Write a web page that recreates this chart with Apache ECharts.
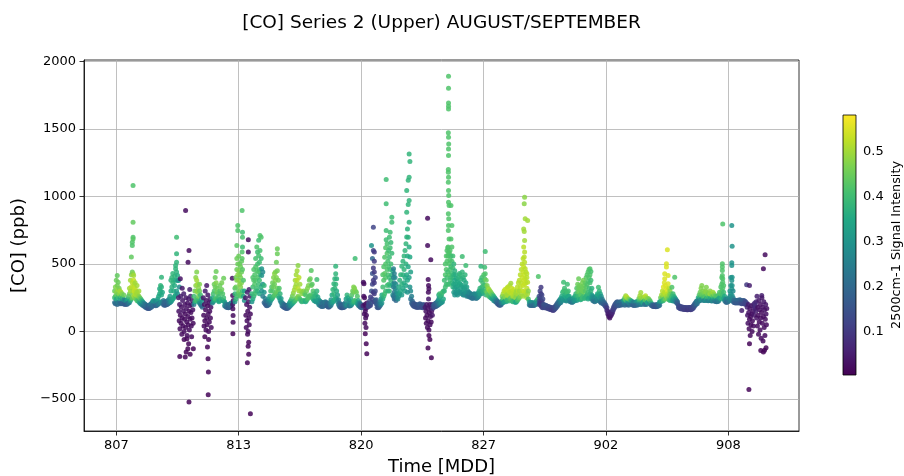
<!DOCTYPE html>
<html><head><meta charset="utf-8">
<script src="https://cdn.jsdelivr.net/npm/echarts@6/dist/echarts.min.js"></script>
<style>html,body{margin:0;padding:0;background:#fff}#c{width:904px;height:476px}</style>
</head><body><div id="c"></div>
<script>
// Tick positions are days of August (Sep 1 = day 32)
const xTickValues = [7, 13.5, 20, 26.5, 33, 39.5];
const xTickLabels = ['807', '813', '820', '827', '902', '908'];
const yTickValues = [-500, 0, 500, 1000, 1500, 2000];
const cbTickValues = [0.1, 0.2, 0.3, 0.4, 0.5];
const signalRange = [0.0025, 0.582];
const viridis = ['#440154','#482475','#414487','#355f8d','#2a788e','#21918c','#22a884','#44bf70','#7ad151','#bddf26','#fde725'];

// Each row: [day, co1, signal1, co2, signal2, ...]
const week1 = [
[6.91,215,.22,250,.38,300,.45],[6.95,205,.2,260,.42,330,.47],[7.00,210,.22,240,.35,290,.48,380,.45],
[7.05,200,.2,270,.45,415,.44,340,.46],[7.10,215,.25,255,.4,365,.45,310,.5],[7.15,210,.22,280,.48,320,.46],
[7.20,205,.2,245,.35,300,.5],[7.25,210,.2,260,.42,290,.5],[7.30,205,.18,240,.3,280,.47],[7.35,210,.2,250,.4],
[7.40,205,.18,235,.28,270,.45],[7.45,200,.17,230,.25],[7.50,205,.18,225,.25],[7.55,200,.17,230,.3],
[7.60,205,.2,240,.35],[7.65,210,.22,260,.42],[7.70,215,.25,280,.45,320,.5],[7.75,230,.35,300,.5,380,.5],
[7.80,240,.4,330,.52,420,.48,551,.44],[7.85,250,.45,360,.52,440,.45,637,.42,662,.42],
[7.89,1081,.42,810,.44,699,.42,686,.43,427,.48,300,.5],[7.92,270,.48,380,.53,415,.5,330,.52],
[7.95,260,.5,350,.52,300,.53],[8.00,250,.48,320,.53,280,.52,360,.5],[8.05,240,.45,300,.52,270,.5],
[8.10,230,.42,290,.5,340,.5],[8.15,225,.4,270,.5],[8.20,220,.38,260,.48,300,.5],[8.25,210,.33,250,.45],
[8.30,205,.3,240,.42],[8.35,200,.28,230,.38],[8.40,195,.25,220,.33],[8.45,190,.22,210,.28],[8.50,185,.2,205,.25],
[8.55,180,.2,200,.23],[8.60,175,.18,195,.22],[8.65,172,.17,190,.2],[8.70,170,.15,185,.18],[8.75,170,.16,190,.2],
[8.80,175,.17,200,.22],[8.85,180,.18,205,.22],[8.90,185,.2,215,.25],[8.95,195,.22,225,.3],[9.00,200,.22,230,.32],
[9.05,195,.2,220,.28],[9.10,190,.18,215,.25],[9.15,195,.2,225,.3],[9.20,200,.22,240,.32],[9.25,205,.25,260,.35],
[9.30,210,.25,280,.35,316,.35],[9.35,215,.28,300,.37,340,.38],[9.40,220,.3,402,.38,330,.37,270,.35],
[9.45,210,.25,290,.35],[9.50,200,.2,230,.25],[9.55,195,.18,220,.2],[9.60,195,.17,215,.2],[9.65,200,.18,220,.2],
[9.70,200,.17,225,.2],[9.75,205,.2,230,.22],[9.80,210,.22,240,.28],[9.85,215,.25,260,.32],
[9.90,220,.3,300,.35,380,.38],[9.95,230,.32,330,.37,400,.38],[10.00,240,.33,360,.38,430,.38],
[10.05,250,.35,380,.38,300,.36],[10.10,260,.35,410,.38,340,.36],[10.15,270,.35,464,.38,489,.38,380,.36],
[10.20,699,.4,575,.38,513,.38,440,.37,300,.33],[10.25,415,.36,378,.35,280,.3],
[10.30,250,.05,378,.3],[10.32,150,.03],[10.34,80,.02],[10.35,330,.28],[10.36,200,.04],[10.37,-185,.01],
[10.38,20,.02],[10.40,120,.02,390,.03],[10.42,260,.05],[10.44,60,.02],[10.46,180,.03],[10.48,-20,.02],
[10.50,100,.02,320,.04],[10.52,230,.04],[10.54,40,.02],[10.56,150,.03],[10.58,280,.05],[10.60,0,.02,-60,.01],
[10.62,90,.02],[10.64,200,.03],[10.66,130,.02,-190,.01],[10.68,30,.02,896,.02],[10.70,250,.04],[10.71,-153,.01],
[10.72,170,.03],[10.74,70,.02],[10.75,-54,.01],[10.76,-30,.02],[10.78,210,.03],[10.80,110,.02,-128,.01],
[10.81,513,.02],[10.82,50,.02],[10.84,240,.04,-91,.01],[10.86,150,.02,600,.02,-523,.01],[10.88,10,.02],
[10.90,190,.03,310,.05],[10.92,90,.02,-170,.01],[10.94,260,.05],[10.96,140,.02],[10.98,40,.02],
[11.00,200,.03,-40,.02],[11.02,100,.02],[11.04,230,.04],[11.06,160,.03],[11.08,60,.02],[11.09,-128,.01],
[11.12,200,.25,260,.4],[11.17,220,.35,300,.45],[11.22,230,.4,340,.48,400,.48],[11.27,240,.42,380,.5,440,.47,300,.48],
[11.32,230,.4,350,.5,290,.48],[11.37,220,.38,320,.48,260,.45],[11.42,210,.3,300,.45,350,.47],[11.47,200,.25,270,.4],
[11.52,190,.22,240,.35],[11.57,180,.2,220,.3],
[11.62,250,.04],[11.64,120,.02],[11.66,40,.02],[11.68,200,.03],[11.70,80,.02,-40,.01],[11.72,300,.05],
[11.74,160,.02],[11.76,10,.02],[11.78,230,.03],[11.80,100,.02,340,.04],[11.82,50,.02],[11.84,190,.02,-116,.01],
[11.86,270,.04],[11.87,-202,.01],[11.88,130,.02,-469,.01],[11.89,-301,.01],[11.90,0,.02,-60,.01],[11.92,210,.03],
[11.94,70,.02],[11.96,150,.02],[11.98,240,.04],[12.00,100,.02],[12.02,180,.03],[12.04,30,.02],[12.06,220,.04],
[12.10,210,.25,250,.35],[12.15,220,.3,280,.4],[12.20,230,.35,300,.42,350,.45],[12.25,240,.4,330,.45,400,.45],
[12.30,250,.42,360,.47,444,.45],[12.35,240,.4,320,.45,290,.45],[12.40,230,.37,280,.43],[12.45,220,.35,260,.4],
[12.50,230,.35,300,.42,340,.45],[12.55,240,.38,290,.42],[12.60,235,.38,310,.45,360,.46],[12.65,230,.35,280,.42],
[12.70,225,.33,395,.45,250,.4],[12.75,190,.28,220,.35],[12.80,185,.22,205,.28],[12.85,180,.2,200,.25],
[12.90,178,.2,195,.22],[12.95,175,.18,195,.2],[13.00,178,.18,198,.22],[13.05,185,.2,205,.22],[13.10,190,.2,210,.25],
[13.16,395,.03],[13.18,267,.02,200,.03],[13.19,168,.02,-17,.01],[13.20,119,.02,69,.02],[13.21,230,.03]
];

const week2 = [
[13.30,220,.3,280,.38,320,.42],[13.35,240,.38,330,.45,400,.45],[13.40,260,.4,380,.47,460,.45,637,.43,540,.45],
[13.45,280,.42,420,.48,748,.42,785,.42,500,.45],[13.50,300,.45,380,.48,450,.47,560,.45],
[13.55,270,.43,350,.48,420,.47,500,.45],[13.60,260,.42,330,.47,400,.46,480,.45],
[13.65,280,.43,360,.47,440,.45,520,.44],[13.68,896,.42,588,.42,540,.43],
[13.70,736,.4,699,.41,625,.4,300,.4,460,.43],[13.75,260,.35,380,.42],[13.80,230,.3,300,.35],
[13.86,250,.04],[13.88,120,.02],[13.90,30,.02],[13.92,200,.03],[13.94,80,.02],[13.96,290,.05,-232,.01],
[13.97,-20,.02],[13.98,150,.02],[14.00,0,.02,-110,.01],[14.01,679,.02,588,.02],[14.02,220,.03],
[14.03,-80,.01,-170,.01],[14.04,100,.02],[14.05,310,.05],[14.06,50,.02],[14.08,180,.03],[14.10,260,.04],
[14.12,130,.02,-610,.01],
[14.20,220,.3,280,.38],[14.25,240,.35,330,.4,400,.42],[14.30,260,.38,380,.42,460,.42],[14.35,280,.4,420,.42,350,.42],
[14.40,300,.4,480,.42,540,.41,380,.42],[14.46,625,.42,450,.42,320,.4],[14.50,588,.4,500,.41,400,.42,300,.38],
[14.56,675,.4,563,.41,440,.42,350,.4],[14.60,513,.4,460,.41,380,.4,280,.36],[14.63,711,.42,600,.41,420,.4],
[14.69,699,.42,540,.4,330,.37],[14.72,464,.3,415,.3,300,.3],[14.78,440,.28,350,.3,260,.25],
[14.85,215,.2,290,.3,340,.38],[14.90,205,.18,245,.25],[14.95,195,.17,225,.22],[15.00,190,.17,215,.2],
[15.05,195,.18,225,.25],[15.10,200,.2,240,.3],[15.15,210,.25,260,.35],
[15.20,230,.3,300,.4],[15.25,240,.35,330,.42],[15.30,250,.38,360,.45,300,.42],[15.35,260,.4,400,.47,330,.45],
[15.40,270,.42,430,.48,350,.45],[15.45,280,.43,440,.47,380,.47],[15.50,290,.44,513,.45,400,.47],
[15.55,612,.45,575,.45,450,.46,320,.45],[15.60,300,.44,380,.46,260,.4],[15.65,250,.35,320,.42],
[15.70,230,.3,280,.38],[15.75,215,.25,245,.32],
[15.80,190,.22,215,.28],[15.85,185,.2,205,.25],[15.90,180,.18,200,.22],[15.95,175,.17,195,.2],[16.00,172,.17,190,.2],
[16.05,170,.17,188,.18],[16.10,172,.16,192,.2],[16.15,178,.2,200,.25],[16.20,185,.22,212,.3],[16.25,192,.28,225,.35],
[16.30,200,.3,240,.4],[16.35,208,.33,262,.45],[16.40,215,.35,285,.48],[16.45,222,.38,308,.5],[16.50,230,.4,330,.5,380,.5],
[16.55,240,.42,350,.5,420,.5],[16.60,250,.45,380,.52,450,.5],[16.65,260,.47,489,.48,320,.52],[16.70,250,.45,400,.52,300,.5],
[16.75,240,.42,350,.5],[16.80,230,.4,300,.5],[16.85,220,.38,280,.48],[16.90,225,.38,290,.48],[16.95,230,.4,300,.48],
[17.00,225,.38,280,.45],[17.05,220,.35,270,.42],[17.10,230,.38,300,.45],
[17.15,240,.4,320,.47],[17.20,250,.42,340,.47],[17.25,260,.42,380,.45],[17.30,270,.42,390,.45],
[17.35,260,.42,452,.43,340,.45],[17.40,250,.4,350,.43],[17.45,240,.38,300,.42],[17.50,230,.35,280,.4],
[17.55,225,.32,260,.38],[17.60,220,.3,270,.38],[17.65,230,.33,385,.4,300,.38],[17.70,215,.3,255,.35],
[17.75,200,.28,235,.33],[17.80,195,.25,225,.3],[17.85,190,.22,220,.28],[17.90,185,.2,215,.25],[17.95,185,.2,210,.22],
[18.00,188,.2,210,.22],[18.05,190,.2,215,.22],[18.10,195,.22,220,.25],[18.15,192,.2,215,.22],[18.20,188,.18,208,.2],
[18.25,182,.17,202,.2],[18.30,182,.17,202,.2],[18.35,188,.2,215,.25],[18.40,195,.25,235,.3],
[18.45,210,.3,270,.35],[18.50,220,.33,310,.38],[18.55,230,.35,353,.38,280,.38],[18.60,240,.36,390,.38,320,.38],
[18.65,250,.37,427,.38,484,.38,350,.38],[18.70,240,.35,390,.37,300,.36],[18.75,220,.3,270,.33],[18.80,200,.25,235,.28],
[18.85,185,.2,210,.22],[18.90,180,.17,200,.2],[18.95,175,.16,195,.18],[19.00,175,.15,195,.18],[19.05,178,.16,200,.18],
[19.10,180,.17,200,.2],[19.15,185,.2,210,.25],[19.20,192,.25,240,.32],[19.25,200,.3,270,.38],[19.30,195,.28,250,.35],
[19.35,190,.25,230,.3],[19.40,188,.22,222,.28],[19.45,192,.25,242,.35],[19.50,200,.3,270,.42],[19.55,210,.35,300,.45],
[19.60,220,.38,330,.47,290,.45],[19.65,230,.4,320,.47],[19.68,540,.4],[19.70,225,.4,300,.47],[19.75,215,.38,290,.45],
[19.80,205,.33,260,.42],[19.85,195,.28,230,.35],[19.90,188,.22,212,.28],[19.95,182,.2,205,.22],[20.00,178,.18,198,.2],
[20.05,175,.17,195,.18]
];

const week3 = [
[20.10,190,.06],[20.12,365,.03],[20.14,260,.03],[20.15,353,.02],[20.17,130,.02],[20.18,250,.02],
[20.20,200,.02,60,.02],[20.22,150,.02,-17,.01],[20.24,100,.02],[20.25,170,.03],[20.26,30,.02],[20.27,-91,.01],
[20.28,120,.02],[20.30,210,.03,-165,.01],[20.33,180,.05],
[20.40,185,.15,205,.15],[20.45,190,.12,225,.12],[20.50,195,.12,255,.1],[20.55,637,.3,300,.15,215,.15],
[20.60,540,.2,430,.15,350,.12,240,.12],[20.65,773,.12,600,.12,470,.1,380,.1,290,.1],
[20.70,588,.1,520,.1,440,.1,360,.1,280,.1,220,.12],[20.75,400,.12,300,.12,230,.15],[20.80,205,.15,235,.17],
[20.85,180,.15,205,.17],[20.90,175,.15,195,.17],[20.95,180,.17,205,.2],[21.00,190,.2,220,.25],[21.05,200,.25,240,.3],
[21.10,210,.3,270,.35],
[21.15,240,.35,330,.4,420,.42],[21.20,260,.38,380,.42,480,.42],[21.25,280,.4,430,.43,550,.42],
[21.30,300,.4,500,.42,620,.42,400,.42],[21.33,1126,.4,946,.4,748,.4,680,.4],[21.38,340,.4,460,.42,580,.42,650,.41],
[21.42,300,.38,420,.41,520,.41],[21.46,350,.4,480,.41,600,.4],[21.50,699,.4,550,.4,400,.4,300,.38],
[21.54,736,.4,620,.4,460,.4,340,.38],[21.58,660,.39,500,.4,380,.38],[21.63,810,.4,847,.4,580,.39,420,.37],
[21.68,450,.35,350,.33,270,.3],
[21.72,464,.25,400,.25,330,.25,260,.22],[21.76,430,.25,360,.25,290,.23,240,.2],[21.80,400,.27,320,.25,250,.22],
[21.85,350,.28,280,.25,230,.2],[21.90,300,.3,250,.25],[21.95,280,.3,240,.28],
[22.00,260,.3,330,.35],[22.05,280,.33,380,.37],[22.10,300,.35,420,.38],[22.16,484,.38,350,.37,270,.32],
[22.22,320,.35,420,.37,520,.38],[22.28,360,.36,460,.38,560,.38],[22.33,300,.33,400,.36,600,.38],
[22.38,340,.34,500,.37,650,.38],[22.42,1044,.38,884,.38,700,.37,420,.35],[22.46,760,.37,560,.36,380,.35,290,.3],
[22.50,1120,.38,940,.38,699,.37,480,.35],[22.55,1316,.38,1143,.38,970,.38,810,.37,625,.36,400,.33],
[22.59,1259,.38,551,.35,330,.3],[22.63,440,.33,300,.28,240,.22],[22.68,260,.25,210,.18],
[22.72,200,.17,225,.2],[22.77,190,.15,210,.17],[22.82,185,.15,205,.16],[22.87,185,.15,200,.15],[22.92,180,.15,200,.15],
[22.97,180,.14,195,.15],[23.02,180,.14,195,.15],[23.07,180,.15,200,.17],[23.12,185,.15,205,.17],[23.17,180,.15,200,.17],
[23.22,180,.14,195,.15],[23.27,175,.14,195,.15],[23.32,180,.14,200,.15],
[23.40,180,.05],[23.42,100,.02],[23.44,150,.03],[23.46,60,.02],[23.48,200,.04],[23.50,120,.02],[23.52,30,.02],
[23.53,839,.02,637,.02],[23.54,170,.03],[23.55,-123,.01],[23.56,80,.02,385,.02],[23.57,291,.02],[23.58,240,.04,340,.02],
[23.60,10,.02,316,.02,-30,.01],[23.62,140,.02],[23.64,200,.03],[23.65,-60,.01],[23.66,50,.02],[23.68,110,.02],
[23.70,180,.03,531,.02],[23.72,70,.02],[23.73,-195,.01],[23.74,150,.03],[23.76,200,.05],[23.78,120,.04],
[23.80,170,.08],[23.82,190,.12],
[23.87,180,.15,200,.17],[23.92,185,.15,205,.17],[23.97,185,.16,210,.18],[24.02,190,.17,215,.2],[24.07,195,.2,225,.25],
[24.12,200,.22,240,.3,270,.35],[24.17,205,.25,250,.33,280,.4],[24.22,210,.28,260,.38],[24.27,215,.3,270,.38],
[24.32,220,.3,290,.4],[24.37,240,.35,300,.4],
[24.42,300,.38,380,.4],[24.47,330,.4,420,.42,500,.42],[24.52,350,.4,460,.42,560,.42],[24.56,400,.4,520,.42,600,.42],
[24.60,440,.4,560,.42,620,.42,350,.4],[24.62,625,.42],
[24.63,1472,.42,1200,.42,1180,.42,1106,.42,872,.42,748,.42,563,.42],
[24.64,1891,.42,1802,.42,1694,.42,1670,.42,1649,.42,1440,.42,1353,.42,1304,.42,1143,.42,1044,.42,958,.42,785,.42,588,.42],
[24.65,1390,.42,1007,.42,835,.42],[24.67,933,.42,686,.42],
[24.68,580,.42,500,.42,420,.42,350,.4],[24.72,600,.42,530,.42,460,.41,380,.4],
[24.77,933,.42,686,.42,560,.41,480,.4,400,.4],[24.82,785,.42,625,.42,520,.41,430,.4,360,.38],
[24.87,560,.4,470,.4,400,.38,330,.37],
[24.92,500,.38,420,.37,350,.35,290,.32],[24.97,450,.37,380,.35,320,.33,270,.3],[25.02,420,.36,350,.34,290,.3],
[25.07,390,.35,330,.33,280,.3],[25.12,370,.35,310,.32,270,.3],[25.17,400,.37,340,.34,290,.3],
[25.22,430,.38,360,.35,300,.32],[25.27,420,.38,350,.35,290,.3],[25.32,390,.37,330,.33,280,.3],
[25.37,556,.4,440,.38,340,.34,290,.3],[25.42,400,.37,320,.33,270,.28],[25.47,380,.36,310,.32,270,.28],
[25.52,420,.38,330,.33,280,.28],[25.56,489,.4,360,.35,290,.3],[25.61,330,.33,280,.3,260,.27],
[25.66,300,.3,265,.25],[25.71,290,.28,260,.25],[25.76,285,.27,255,.23],[25.81,280,.27,255,.23],[25.86,275,.25,250,.22],
[25.91,270,.25,245,.22],[25.96,275,.25,250,.22],[26.01,280,.27,255,.23],[26.06,275,.27,250,.23],[26.11,270,.27,245,.22],
[26.16,275,.28,250,.25],[26.21,285,.3,255,.27],[26.26,300,.35,265,.3],
[26.31,320,.38,280,.33],[26.36,484,.38,380,.38,300,.35],[26.41,400,.4,330,.38,280,.33],[26.46,360,.4,300,.37],
[26.51,420,.42,340,.4,290,.37],[26.56,476,.4,390,.42,310,.38],[26.59,593,.4,427,.42,340,.4],[26.64,380,.45,300,.42,270,.38]
];

const week4 = [
[26.69,340,.47,290,.45],[26.74,320,.48,270,.42],[26.79,310,.5,260,.42],[26.84,300,.48,255,.4],[26.89,290,.47,250,.38],
[26.94,280,.45,245,.35],[26.99,270,.42,240,.33],[27.04,260,.38,230,.3],[27.09,250,.35,225,.28],[27.14,240,.3,220,.25],
[27.19,230,.25,215,.2],[27.24,225,.22,205,.18],[27.29,215,.2,200,.17],[27.34,210,.18,195,.16],[27.39,210,.2,195,.17],
[27.44,215,.25,200,.2],
[27.49,230,.35,210,.25,260,.45],[27.54,240,.42,215,.3,280,.5],[27.59,250,.45,220,.33,300,.52],[27.64,260,.48,225,.35,310,.53],
[27.69,250,.47,220,.33,290,.52],[27.74,270,.5,230,.38,320,.53],[27.79,280,.5,235,.4,330,.52],[27.84,260,.5,225,.38,300,.53],
[27.89,290,.52,240,.42,340,.52],[27.95,358,.5,300,.52,250,.45],[28.00,280,.52,230,.42,320,.53],[28.05,260,.5,220,.38,300,.52],
[28.10,270,.52,225,.4,310,.53],[28.15,260,.5,220,.38,290,.52],[28.20,250,.48,215,.35,280,.5],[28.25,260,.48,220,.35,300,.5],
[28.30,280,.5,230,.4,330,.52],[28.35,300,.52,240,.42,360,.52],
[28.40,380,.52,300,.5,250,.45],[28.45,420,.52,330,.52,260,.47],[28.50,460,.52,360,.52,280,.5],[28.55,500,.52,400,.53,300,.52],
[28.60,540,.52,440,.53,340,.53,260,.5],[28.63,760,.5,625,.52,480,.53,380,.53],[28.66,946,.48,740,.5,551,.52,420,.53,300,.53],
[28.68,995,.48,674,.5,588,.52,513,.52,350,.53],[28.71,835,.5,464,.52,390,.53,270,.5],[28.75,440,.52,360,.53,290,.52],
[28.80,427,.52,400,.52,320,.52,250,.5],[28.84,822,.5,365,.52,280,.5],[28.88,300,.48,240,.42],
[28.93,220,.35,198,.25],[28.98,215,.3,193,.22],[29.03,210,.28,192,.2],[29.08,215,.3,197,.22],[29.13,210,.28,192,.2],
[29.18,205,.25,192,.2],[29.23,210,.27,197,.22],[29.28,220,.3,202,.25],[29.33,230,.35,207,.28],[29.38,240,.4,212,.3],
[29.41,407,.42],
[29.45,260,.15,230,.15,200,.12],[29.50,300,.12,250,.12,210,.1],[29.55,328,.1,280,.1,230,.1,190,.1],
[29.60,270,.12,220,.1,180,.1],[29.65,240,.13,200,.12,175,.12],
[29.70,200,.15,180,.13],[29.75,195,.15,175,.13],[29.80,195,.15,175,.14],[29.85,190,.15,175,.13],[29.90,185,.15,170,.12],
[29.95,185,.14,170,.12],[30.00,180,.13,165,.12],[30.05,180,.14,165,.12],[30.10,175,.13,160,.11],[30.15,175,.13,158,.11],
[30.20,172,.12,155,.1],[30.25,178,.13,160,.12],[30.30,185,.14,168,.13],[30.35,195,.16,175,.15],[30.40,205,.18,185,.17],
[30.45,215,.2,195,.18],[30.50,225,.23,205,.2],[30.55,235,.27,210,.22],[30.60,245,.3,215,.25],[30.65,260,.35,225,.28],
[30.70,290,.38,240,.3],[30.75,365,.4,300,.4,250,.33],[30.80,320,.4,270,.37,235,.3],[30.85,300,.4,260,.35,230,.3],
[30.90,280,.38,250,.35,225,.28],[30.95,350,.4,290,.4,240,.33],[31.00,300,.4,260,.35,230,.3],[31.05,260,.35,230,.28],
[31.10,240,.3,220,.25],[31.15,240,.3,220,.25],[31.20,235,.28,215,.22],[31.25,240,.3,220,.25],[31.30,250,.33,225,.28],
[31.35,260,.35,230,.3],[31.40,280,.38,240,.32],
[31.45,320,.42,260,.38,230,.3],[31.50,350,.45,290,.43,240,.35],[31.55,390,.45,320,.45,260,.4],[31.60,340,.45,290,.45,245,.38],
[31.65,310,.45,270,.42,235,.35],[31.70,330,.45,280,.43,240,.38],[31.75,360,.46,300,.45,250,.4],[31.80,380,.46,320,.45,260,.4],
[31.85,340,.45,290,.45,245,.38],[31.90,360,.44,300,.43,250,.38],[31.95,400,.43,330,.43,260,.38],[32.00,420,.42,350,.42,270,.38],
[32.05,440,.42,370,.42,290,.4,240,.35],[32.10,460,.42,400,.42,320,.4,250,.35],[32.15,464,.42,420,.42,360,.41,280,.38],
[32.20,444,.41,380,.4,300,.38,250,.33],[32.25,320,.37,270,.33,240,.3],
[32.30,260,.3,230,.25],[32.35,250,.28,225,.23],[32.40,245,.27,220,.22],[32.45,250,.28,225,.23],[32.50,260,.3,230,.25],
[32.55,280,.35,240,.28],[32.60,328,.4,270,.35,235,.27],[32.65,300,.38,255,.32,225,.25],[32.70,280,.35,245,.3,220,.23],
[32.75,260,.3,230,.25,210,.2],[32.80,240,.25,215,.2],[32.85,225,.22,205,.18],[32.90,215,.2,200,.17],[32.95,205,.18,190,.15],
[33.00,195,.15,180,.13],
[33.05,175,.1,155,.08],[33.10,150,.07,130,.05],[33.15,130,.05,110,.04],[33.20,120,.04,100,.03,140,.06],[33.25,115,.04,135,.05],
[33.30,125,.05,145,.07],[33.35,140,.07,160,.1],[33.40,160,.1,180,.12],[33.45,175,.12,195,.14],[33.50,185,.13,205,.15],
[33.55,195,.15,215,.17],[33.60,200,.15,220,.17]
];

const week5 = [
[33.65,210,.18,190,.16],[33.70,215,.2,195,.17],[33.75,220,.2,200,.17],[33.80,215,.2,195,.18],[33.85,220,.22,200,.18],
[33.90,225,.25,200,.2],[33.95,235,.35,205,.22],[34.00,250,.45,215,.3,195,.2],[34.05,264,.5,235,.45,205,.25],
[34.10,255,.52,225,.4,200,.22],[34.15,245,.5,220,.35,200,.2],[34.20,240,.48,215,.3,195,.2],[34.25,235,.45,210,.28],
[34.30,230,.4,205,.25],[34.35,225,.35,200,.22],[34.40,220,.3,197,.2],[34.45,215,.25,195,.18],[34.50,213,.25,193,.18],
[34.55,215,.25,195,.2],[34.60,220,.3,197,.2],[34.65,215,.28,195,.2],[34.70,225,.35,200,.22],[34.75,245,.45,210,.3],
[34.80,265,.5,225,.4,200,.22],[34.85,289,.5,245,.48,210,.3],[34.90,255,.5,225,.4,200,.25],[34.95,240,.48,215,.35],
[35.00,245,.48,220,.35],[35.05,255,.5,225,.38,200,.22],[35.10,264,.52,235,.45,205,.25],[35.15,250,.5,225,.4,200,.22],
[35.20,240,.48,215,.35],[35.25,245,.47,220,.33],[35.30,235,.45,210,.3],[35.35,225,.42,205,.28],[35.40,210,.38,195,.22],
[35.45,200,.25,190,.18],[35.50,195,.2,185,.17],[35.55,195,.18,185,.16],[35.60,197,.18,185,.16],[35.65,195,.17,183,.15],
[35.70,197,.18,185,.16],[35.75,200,.2,187,.17],[35.80,205,.25,190,.18],[35.85,220,.35,195,.22],
[35.90,250,.45,220,.3],[35.95,270,.5,230,.38],[36.00,300,.52,250,.45,225,.35],[36.05,330,.55,270,.5,230,.4],
[36.10,360,.55,290,.52,240,.42],[36.12,427,.55,390,.55],[36.16,340,.55,280,.52,240,.45],[36.21,501,.55,477,.55,320,.55,260,.5],
[36.26,605,.55,304,.55,250,.48],[36.30,415,.55,353,.55,280,.52,240,.45],[36.35,320,.52,270,.48,235,.42],
[36.40,300,.48,260,.45,230,.38],[36.45,280,.45,245,.4],[36.50,328,.42,260,.4,230,.35],[36.56,280,.4,245,.35,225,.3],
[36.61,260,.38,235,.32],[36.65,402,.42,250,.35,225,.28],[36.70,240,.3,220,.25],[36.75,230,.25,212,.2],[36.80,220,.2,205,.17],
[36.85,193,.15,178,.14],[36.90,188,.14,173,.13],[36.95,183,.13,168,.12],[37.00,183,.13,168,.12],[37.05,180,.13,166,.12],
[37.10,180,.12,166,.11],[37.15,178,.12,163,.11],[37.20,178,.12,163,.11],[37.25,176,.12,162,.11],[37.30,176,.12,161,.1],
[37.35,176,.11,161,.1],[37.40,178,.12,163,.1],[37.45,178,.12,163,.11],[37.50,176,.11,161,.1],[37.55,178,.12,164,.11],
[37.60,183,.13,168,.12],[37.65,193,.15,176,.13],[37.70,203,.18,186,.15],[37.75,213,.2,196,.17],[37.80,223,.22,203,.2],
[37.85,228,.25,208,.22],
[37.90,250,.35,225,.25],[37.95,270,.42,240,.3,225,.22],[38.00,290,.45,250,.38,230,.25],[38.05,320,.47,270,.42,235,.28],
[38.09,340,.47,280,.45,240,.3],[38.14,300,.47,260,.42,235,.28],[38.19,280,.45,250,.4,230,.25],[38.24,290,.47,255,.42,230,.27],
[38.29,300,.48,260,.43,232,.28],[38.33,328,.47,291,.48,245,.35],[38.38,280,.47,250,.4,230,.27],[38.43,270,.45,245,.38,228,.25],
[38.48,285,.47,250,.4,230,.27],[38.53,279,.5,300,.48,240,.33],[38.58,275,.48,245,.38,228,.25],[38.63,270,.47,240,.35,225,.25],
[38.68,291,.5,260,.42,232,.3],[38.73,280,.48,245,.38,228,.25],[38.78,265,.45,240,.35,225,.23],[38.83,260,.43,235,.33,222,.22],
[38.88,255,.42,232,.3,220,.22],[38.93,260,.42,235,.3,222,.22],[38.98,270,.42,240,.33,225,.25],[39.03,290,.42,250,.35],
[39.10,330,.42,280,.42,240,.35],[39.15,400,.42,350,.42,300,.42,250,.38],[39.18,501,.42,477,.42,452,.42,415,.42],
[39.20,797,.42,390,.42,365,.42,320,.42,270,.4],[39.25,340,.42,290,.4,245,.35],[39.30,260,.35,230,.28],
[39.35,240,.28,220,.22],[39.40,235,.25,215,.2],[39.45,238,.25,218,.2],[39.50,245,.28,222,.22],
[39.58,300,.3,260,.28,230,.25],[39.63,400,.3,340,.3,280,.3,240,.27],[39.68,785,.3,509,.3,489,.3,378,.3,316,.3],
[39.70,632,.3,402,.3,340,.3,267,.3,230,.27],[39.75,300,.28,250,.27,222,.22],
[39.80,235,.22,215,.18],[39.85,230,.2,212,.17],[39.90,228,.2,210,.16],[39.95,230,.2,212,.17],[40.00,232,.2,212,.17],
[40.05,230,.2,210,.16],[40.10,235,.2,215,.17],[40.15,232,.18,210,.15],[40.21,156,.05,225,.17,205,.14],[40.26,228,.17,208,.14],
[40.31,230,.17,210,.14],[40.36,225,.15,205,.12],[40.41,220,.13,200,.12],[40.47,346,.1,210,.12],
[40.50,180,.06],[40.52,120,.04],[40.54,60,.03],[40.56,200,.05],[40.58,140,.03],[40.59,-430,.01],[40.60,20,.02],
[40.62,90,.02,340,.05,-91,.01],[40.64,170,.03],[40.66,-30,.02],[40.68,110,.02],[40.70,50,.02],[40.72,190,.04],[40.74,130,.02],
[40.76,0,.02],[40.78,80,.02],[40.80,150,.03],[40.82,40,.02],[40.84,200,.05],[40.86,120,.04],[40.88,180,.06],[40.90,210,.08],
[40.92,170,.06],[40.94,190,.08],[40.96,150,.05],[40.98,220,.07],[41.00,100,.03],[41.02,260,.05],[41.04,40,.02],
[41.06,180,.03],[41.08,120,.02],[41.10,-20,.02],[41.12,230,.04],[41.14,70,.02],[41.16,160,.03],[41.18,10,.02],
[41.20,200,.03],[41.22,100,.02,-141,.01],[41.24,-50,.02],[41.26,140,.02],[41.27,267,.05],[41.28,250,.04],[41.30,60,.02],
[41.32,180,.03],[41.34,-70,.02],[41.36,110,.02,464,.02,-153,.01],[41.38,220,.04],[41.40,30,.02],[41.42,160,.03,-140,.01],
[41.44,-30,.02],[41.45,568,.02],[41.46,90,.02],[41.48,200,.04],[41.50,130,.03,-120,.01],[41.52,50,.02],[41.54,170,.03]
];

function toPoints(rows) {
  const pts = [];
  rows.forEach(r => { for (let i = 1; i < r.length; i += 2) pts.push([r[0], r[i], r[i + 1]]); });
  return pts;
}
const points = [week1, week2, week3, week4, week5].map(toPoints).reduce((a, b) => a.concat(b), []);

const FONT = 'DejaVu Sans';
const chart = echarts.init(document.getElementById('c'), null, {renderer: 'canvas'});
const minusFmt = v => (v < 0 ? '\u2212' + Math.abs(v) : String(v));
const stops = viridis.map((c, i) => ({offset: i / (viridis.length - 1), color: c}));

chart.setOption({
  animation: false,
  backgroundColor: '#fff',
  textStyle: {fontFamily: FONT},
  title: {
    text: '[CO] Series 2 (Upper) AUGUST/SEPTEMBER', left: 441.5, top: 14, textAlign: 'center', padding: 0,
    textStyle: {fontFamily: FONT, fontSize: 18.5, fontWeight: 'normal', color: '#000'}
  },
  grid: [
    {left: 84, top: 60, width: 715, height: 371, show: true, borderColor: '#000', borderWidth: 0.8,
     backgroundColor: 'transparent', containLabel: false, outerBoundsMode: 'none'},
    {left: 843, top: 115, width: 13, height: 260, show: false, containLabel: false, outerBoundsMode: 'none'}
  ],
  xAxis: [
    {type: 'value', gridIndex: 0, min: 5.285, max: 43.25,
     name: 'Time [MDD]', nameLocation: 'middle', nameGap: 27,
     nameTextStyle: {fontFamily: FONT, fontSize: 18, color: '#000'},
     axisLine: {show: true, onZero: false, lineStyle: {color: '#000', width: 0.8}},
     axisTick: {show: true, customValues: xTickValues, length: 4.5, lineStyle: {color: '#000', width: 0.8}},
     axisLabel: {show: true, customValues: xTickValues, margin: 8, fontFamily: FONT, fontSize: 13, color: '#000',
       formatter: v => { const i = xTickValues.findIndex(t => Math.abs(t - v) < 1e-6); return i >= 0 ? xTickLabels[i] : ''; }},
     splitLine: {show: true, lineStyle: {color: '#b0b0b0', width: 0.8}}},
    {type: 'value', gridIndex: 1, min: 0, max: 1, show: false}
  ],
  yAxis: [
    {type: 'value', gridIndex: 0, min: -738, max: 2012,
     name: '[CO] (ppb)', nameLocation: 'middle', nameGap: 56,
     nameTextStyle: {fontFamily: FONT, fontSize: 18, color: '#000'},
     axisLine: {show: true, onZero: false, lineStyle: {color: '#000', width: 0.8}},
     axisTick: {show: true, customValues: yTickValues, length: 4.5, lineStyle: {color: '#000', width: 0.8}},
     axisLabel: {show: true, customValues: yTickValues, margin: 8, fontFamily: FONT, fontSize: 13, color: '#000', formatter: minusFmt},
     splitLine: {show: true, lineStyle: {color: '#b0b0b0', width: 0.8}}},
    {type: 'value', gridIndex: 1, position: 'right', min: signalRange[0], max: signalRange[1],
     name: '2500cm-1 Signal Intensity', nameLocation: 'middle', nameGap: 34, nameRotate: 90,
     nameTextStyle: {fontFamily: FONT, fontSize: 12.8, color: '#000'},
     axisLine: {show: false},
     axisTick: {show: true, customValues: cbTickValues, length: 4, lineStyle: {color: '#000', width: 0.8}},
     axisLabel: {show: true, customValues: cbTickValues, margin: 7, fontFamily: FONT, fontSize: 13, color: '#000',
       formatter: v => v.toFixed(1)},
     splitLine: {show: false}}
  ],
  visualMap: {
    type: 'continuous', show: false, dimension: 2, seriesIndex: 0,
    min: signalRange[0], max: signalRange[1], inRange: {color: viridis}
  },
  graphic: [{
    type: 'rect', z: 100, shape: {x: 843, y: 115, width: 13, height: 260},
    style: {fill: {type: 'linear', x: 0, y: 1, x2: 0, y2: 0, colorStops: stops}, stroke: '#000', lineWidth: 0.8}
  }],
  series: [
    {type: 'scatter', xAxisIndex: 0, yAxisIndex: 0, data: points, symbolSize: 5, z: 3,
     itemStyle: {opacity: 0.85}, emphasis: {disabled: true}},
    {type: 'scatter', xAxisIndex: 1, yAxisIndex: 1, data: [], silent: true}
  ]
});
</script></body></html>
